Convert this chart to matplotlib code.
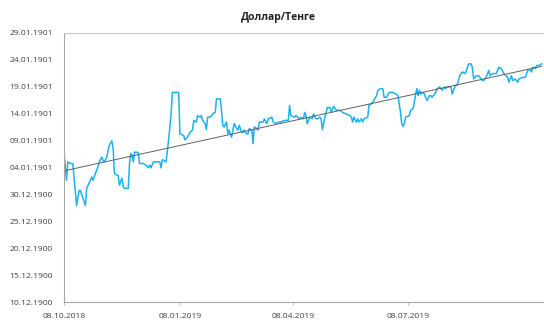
import numpy as np
import pandas as pd
import datetime as dt
from matplotlib import pyplot as plt
from matplotlib import dates as mdates
from matplotlib.ticker import FuncFormatter

plt.rcParams['font.family'] = ['Open Sans', 'DejaVu Sans']

start = pd.Timestamp('2018-10-08')
days = [0, 2, 3, 5, 7, 10, 12, 13, 17, 18, 21, 22, 23, 25, 27, 28, 30, 31, 32, 34,
        35, 36, 38, 39, 40, 42, 43, 44, 46, 47, 48, 51, 52, 53, 54, 55, 56, 58, 59, 60,
        63, 65, 67, 68, 69, 71, 73, 76, 77, 78, 79, 81, 83, 85, 86, 91, 92, 95, 96, 98,
        100, 102, 103, 105, 106, 108, 109, 110, 112, 113, 114, 116, 118, 120, 121, 124,
        125, 126, 127, 129, 130, 131, 133, 134, 135, 137, 138, 139, 141, 142, 143, 145,
        146, 147, 149, 150, 151, 153, 154, 155, 158, 159, 161, 162, 165, 166, 168, 170,
        172, 175, 178, 179, 180, 183, 184, 187, 188,
        190, 191, 192, 193, 194, 195, 197, 198, 200, 201, 203, 204, 205, 207, 208, 209,
        211, 212, 214, 216, 219, 221, 224, 227, 228, 229, 230, 232, 233, 234, 236, 237,
        238, 241, 242, 244, 245, 248, 249, 251,
        253, 254, 256, 258, 261, 264, 265, 267, 268, 269, 270, 271, 274, 275, 277, 278,
        279, 280, 281, 282, 283, 285, 286, 287, 288, 290, 291, 292, 294, 295, 296, 298,
        299, 300, 302, 303, 304, 306, 307, 308, 310, 311, 312, 314, 315,
        316, 318, 319, 321, 323, 324, 325, 327, 329, 331, 332, 333, 335, 337, 338, 340,
        343, 345, 347, 349, 352, 353, 355, 356, 358, 360, 361, 364, 366, 368, 370, 371,
        372, 374, 375, 377, 379]
rate = [372.8, 367.6, 371.0, 370.7, 370.7, 362.9, 365.7, 365.7, 362.9, 366.1, 367.6, 368.2,
        367.6, 368.9, 370.1, 371.0, 371.9, 371.3, 371.0, 371.9, 373.2, 374.1, 374.9, 373.5,
        368.9, 368.5, 368.5, 366.7, 368.0, 366.4, 366.1, 366.1, 370.7, 372.6, 372.2, 371.0,
        372.8, 372.8, 372.6, 370.7,
        370.7, 370.4, 369.9, 370.4, 369.9, 371.0, 371.0, 371.0, 369.9, 371.4, 371.3, 371.0,
        375.0, 379.9, 383.9, 383.9, 376.2, 375.9, 375.1, 375.6, 376.5, 376.9, 378.7, 378.4,
        379.6, 379.3, 379.6, 378.7, 378.1, 377.0, 379.3, 379.3, 379.9, 380.2, 382.7, 382.7,
        380.6, 377.8, 377.5, 378.4, 376.2, 376.9, 375.6, 376.9, 378.1, 377.2, 376.9, 377.8,
        376.5, 376.5, 376.9, 376.2, 376.2, 377.2, 376.9, 374.4, 377.5, 377.2, 376.9, 378.4,
        378.4, 379.0, 378.1, 379.0, 379.3, 378.4, 378.1, 378.4, 378.4, 378.7, 378.7, 381.5,
        379.6, 379.3, 379.6, 379.0, 379.3,
        379.0, 380.2, 379.6, 378.1, 378.7, 379.3, 379.0, 379.9, 379.0, 379.0, 379.3, 379.0,
        377.0, 379.3, 380.2, 381.1, 381.1, 380.2, 381.3, 380.6, 380.6, 380.2, 379.9, 379.6,
        379.3, 378.4, 379.3, 378.4, 379.0, 378.4, 379.0, 378.4, 379.0, 379.3, 381.5, 381.8,
        382.1, 383.3, 384.3, 384.6,
        384.6, 383.0, 383.0, 383.9, 383.9, 383.5, 383.3, 380.2, 378.1, 377.6, 378.1, 379.3,
        379.6, 380.6, 380.9, 382.1, 383.6, 384.6, 383.3, 384.3, 383.6, 383.9, 383.6, 383.0,
        382.4, 383.3, 383.3, 383.0, 383.6, 383.9, 384.6, 384.9, 384.6, 384.3, 384.9, 384.6,
        384.9, 384.9, 384.9, 383.6, 384.9, 385.2, 385.2, 387.0, 387.4,
        387.7, 387.4, 387.7, 389.2, 389.2, 388.6, 386.4, 387.0, 387.0, 386.4, 386.1, 386.1,
        386.7, 388.0, 387.0, 387.4, 387.4, 388.6, 388.3, 387.4, 386.7, 385.8, 387.0, 386.1,
        386.4, 385.8, 386.4, 386.7, 386.7, 388.0, 388.1, 387.7, 388.6, 388.3, 388.9, 388.9,
        389.2]

xtick_dates = ['2018-10-08', '2019-01-08', '2019-04-08', '2019-07-08']
ytick_vals = list(range(345, 396, 5))

dates = start + pd.to_timedelta(days, unit='D')

# linear trendline like excel's
k, b = np.polyfit(days, rate, 1)
trend = [k * d + b for d in days]


def excel_date(v, pos):
    # excel shows the number as a date serial
    return (dt.datetime(1899, 12, 30) + dt.timedelta(days=float(v))).strftime('%d.%m.%Y')


fig = plt.figure(figsize=(5.44, 3.23), dpi=100)
ax = fig.add_axes([0.1176, 0.065, 0.8804, 0.834])
ax.plot(dates, rate, color='#1ab2ef', lw=1.1)
ax.plot(dates, trend, color='#606060', lw=0.7)

ax.set_ylim(345, 395)
ax.set_yticks(ytick_vals)
ax.yaxis.set_major_formatter(FuncFormatter(excel_date))
ax.set_xlim(start, start + pd.Timedelta(days=380))
ax.set_xticks(pd.to_datetime(xtick_dates))
ax.xaxis.set_major_formatter(mdates.DateFormatter('%d.%m.%Y'))

ax.tick_params(axis='y', length=0, pad=8, labelsize=6.1, labelcolor='#404040')
ax.tick_params(axis='x', length=2, pad=6, labelsize=6.1, labelcolor='#404040', color='#bfbfbf')
for s in ['left', 'bottom']:
    ax.spines[s].set_color('#a6a6a6')
    ax.spines[s].set_linewidth(0.8)
ax.spines['top'].set_color('#c8c8c8')
ax.spines['top'].set_linewidth(0.8)
ax.spines['right'].set_visible(False)

fig.text(0.512, 0.945, 'Доллар/Тенге', ha='center', va='center', fontsize=7.5, fontweight='bold', color='#202020')

fig.savefig('out.png', dpi=100)
